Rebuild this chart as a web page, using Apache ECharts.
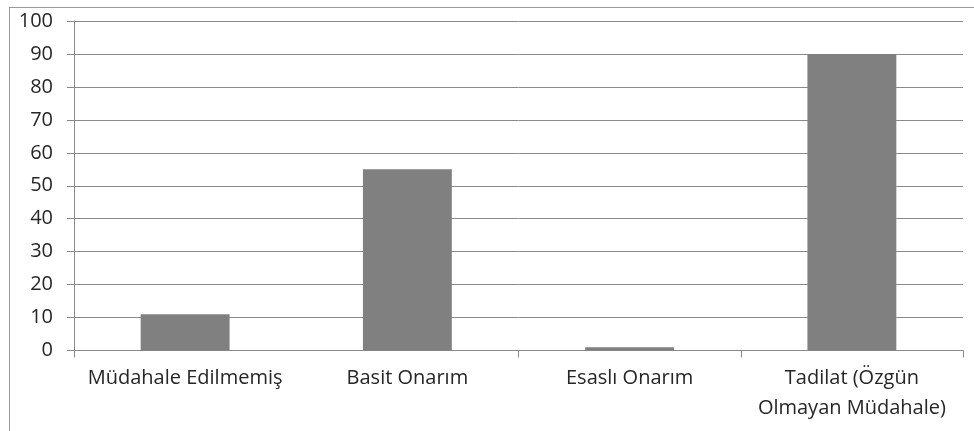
<!DOCTYPE html>
<html>
<head>
<meta charset="utf-8">
<script src="https://cdn.jsdelivr.net/npm/echarts@6/dist/echarts.min.js"></script>
<style>
  html, body { margin: 0; padding: 0; background: #fff; }
  #wrap { position: relative; width: 974px; height: 431px; overflow: hidden; }
  #frame { position: absolute; left: 9px; top: 7px; width: 1000px; height: 500px;
           border-left: 1px solid #9a9a9a; border-top: 1px solid #9a9a9a; box-sizing: border-box; }
  #chart { position: absolute; left: 0; top: 0; width: 974px; height: 431px; }
</style>
</head>
<body>
<div id="wrap">
  <div id="frame"></div>
  <div id="chart"></div>
</div>
<script>
const categories = ['Müdahale Edilmemiş', 'Basit Onarım', 'Esaslı Onarım', 'Tadilat (Özgün\nOlmayan Müdahale)'];
const values = [11, 55, 1, 90];
const yTicks = [0, 10, 20, 30, 40, 50, 60, 70, 80, 90, 100];

const chart = echarts.init(document.getElementById('chart'), null, { renderer: 'canvas' });
const lineColor = '#8a8a8a';
const textColor = '#262626';
const font = 'Open Sans';
chart.setOption({
  animation: false,
  grid: { left: 74, right: 11, top: 21, bottom: 80.5, containLabel: false },
  xAxis: {
    type: 'category',
    data: categories,
    boundaryGap: true,
    axisLine: { show: true, lineStyle: { color: lineColor, width: 1 } },
    axisTick: { show: true, interval: 1, length: 7, lineStyle: { color: lineColor } },
    axisLabel: { interval: 0, color: textColor, fontFamily: font, fontSize: 20, lineHeight: 30, margin: 13 },
    splitLine: { show: false }
  },
  yAxis: {
    type: 'value',
    min: yTicks[0],
    max: yTicks[yTicks.length - 1],
    interval: 10,
    axisLine: { show: true, lineStyle: { color: lineColor, width: 1 } },
    axisTick: { show: true, length: 7, lineStyle: { color: lineColor } },
    axisLabel: { color: textColor, fontFamily: font, fontSize: 20, margin: 21 },
    splitLine: { show: true, lineStyle: { color: lineColor, width: 1 } }
  },
  series: [{
    type: 'bar',
    data: values,
    barWidth: '40%',
    itemStyle: { color: '#808080' }
  }]
});
</script>
</body>
</html>
